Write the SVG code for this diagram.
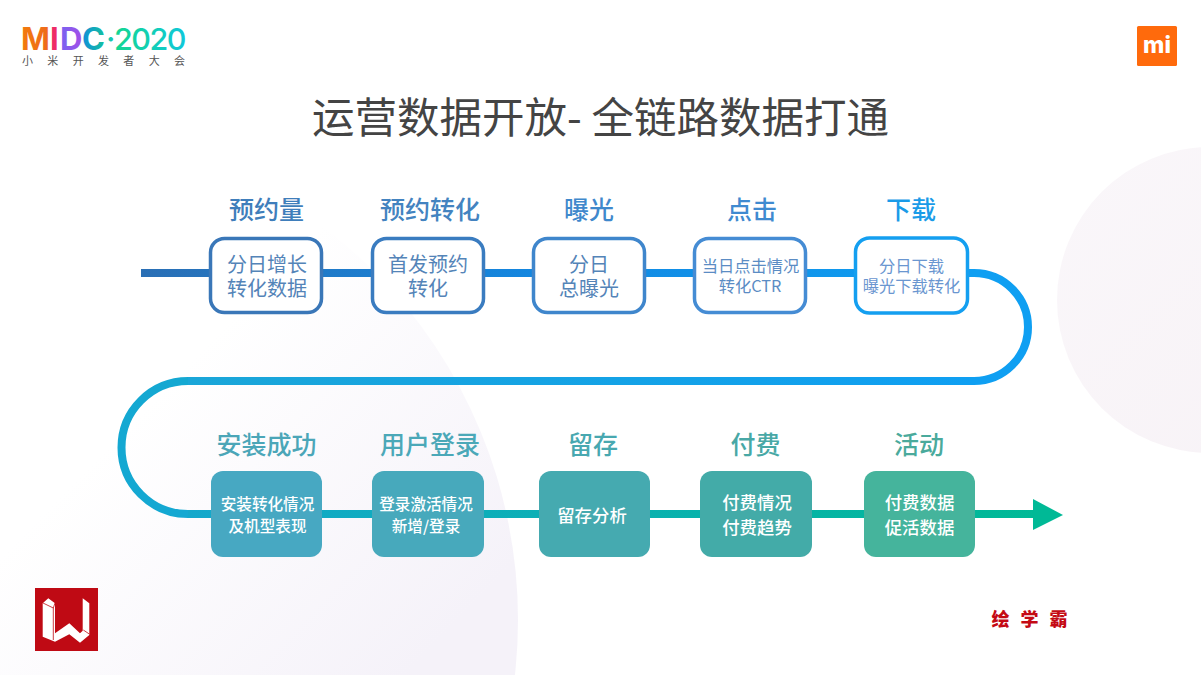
<svg xmlns="http://www.w3.org/2000/svg" width="1201" height="675" viewBox="0 0 1201 675">
<defs>
<linearGradient id="bg1" gradientUnits="userSpaceOnUse" x1="250" y1="300" x2="518" y2="560"><stop offset="0" stop-color="#ffffff"/><stop offset="1" stop-color="#f5f2f9"/></linearGradient>
<linearGradient id="bg2" x1="0" y1="0" x2="1" y2="1"><stop offset="0" stop-color="#faf7fa"/><stop offset="1" stop-color="#f7f2f6"/></linearGradient>
<linearGradient id="l1" gradientUnits="userSpaceOnUse" x1="141" y1="0" x2="968" y2="0"><stop offset="0" stop-color="#2a6fb5"/><stop offset="0.5" stop-color="#1288e2"/><stop offset="1" stop-color="#0f9ff2"/></linearGradient>
<linearGradient id="l3" gradientUnits="userSpaceOnUse" x1="188" y1="0" x2="974" y2="0"><stop offset="0" stop-color="#1aa6d8"/><stop offset="1" stop-color="#0f9ff2"/></linearGradient>
<linearGradient id="l4" gradientUnits="userSpaceOnUse" x1="188" y1="0" x2="1035" y2="0"><stop offset="0" stop-color="#14a8cc"/><stop offset="1" stop-color="#00b996"/></linearGradient>
<linearGradient id="g0" gradientUnits="userSpaceOnUse" x1="22" y1="0" x2="50" y2="0"><stop offset="0" stop-color="#f27a0c"/><stop offset="1" stop-color="#ee6a1e"/></linearGradient>
<linearGradient id="g2" gradientUnits="userSpaceOnUse" x1="62" y1="0" x2="80" y2="0"><stop offset="0" stop-color="#7a62f0"/><stop offset="1" stop-color="#a050e8"/></linearGradient>
<linearGradient id="g3" gradientUnits="userSpaceOnUse" x1="83" y1="0" x2="104" y2="0"><stop offset="0" stop-color="#1090d8"/><stop offset="1" stop-color="#14bfa0"/></linearGradient>
<linearGradient id="g4" gradientUnits="userSpaceOnUse" x1="114" y1="0" x2="184" y2="0"><stop offset="0" stop-color="#14d690"/><stop offset="1" stop-color="#10c8d8"/></linearGradient>
</defs>
<style>
text{font-family:"Noto Sans CJK SC","Noto Sans",sans-serif;text-anchor:middle}
.head{font-size:25px;font-weight:500}
.body{font-size:20px}
.small{font-size:16.300px}
.inner{font-size:15.600px;font-weight:500;fill:#fff}
.inner2{font-size:17.400px;font-weight:500;fill:#fff}
.box{fill:#fff;stroke-width:3.500}
.line{fill:none;stroke-width:8}
</style>
<rect width="1201" height="675" fill="#ffffff"/>
<g id="background">
<circle cx="24" cy="620" r="494" fill="url(#bg1)"/>
<circle cx="1210" cy="300" r="153" fill="url(#bg2)"/>
</g>
<g id="logo-midc">
<text y="50" style="font-family:Inter,sans-serif;text-anchor:start;font-size:31px;font-weight:700"><tspan x="21" fill="url(#g0)">M</tspan><tspan x="50" fill="#ee2c66">I</tspan><tspan x="60" fill="url(#g2)">D</tspan><tspan x="82" fill="url(#g3)">C</tspan><tspan x="106" font-weight="500" fill="#14c8b0">·</tspan><tspan x="114" font-size="30.500" font-weight="500" letter-spacing="-1.500" fill="url(#g4)">2020</tspan></text>
<text x="22" y="65" style="text-anchor:start;font-size:11px" fill="#555" textLength="163">小米开发者大会</text>
</g>
<g id="logo-mi">
<rect x="1137" y="26" width="40" height="40" rx="1.500" fill="#ff6a0c"/>
<text x="1157" y="53" style="font-family:Inter,sans-serif;font-size:23px;font-weight:800" fill="#fff">mi</text>
</g>
<text id="title" x="600.500" y="133" font-size="42.500" fill="#444444">运营数据开放- 全链路数据打通</text>
<g id="connectors">
<path class="line" stroke="url(#l1)" d="M141,273H968"/>
<path class="line" stroke="#0f9ff2" d="M968,273H974A54,54 0 0 1 974,381"/>
<path class="line" stroke="url(#l3)" d="M974,381H188"/>
<path class="line" stroke="#14a8d2" d="M188,381A66.500,66.500 0 0 0 188,514"/>
<path class="line" stroke="url(#l4)" d="M188,514H1035"/>
<polygon points="1033,499 1063,515 1033,530" fill="#00b996"/>
</g>
<g id="n1"><text class="head" x="266.500" y="219" fill="#3f7ebb">预约量</text><rect class="box" x="210.500" y="238.500" width="111" height="74" rx="14" stroke="#3a77b8"/><text class="body" fill="#5484b8"><tspan x="267" y="272">分日增长</tspan><tspan x="267" y="296">转化数据</tspan></text></g>
<g id="n2"><text class="head" x="430" y="219" fill="#4383c0">预约转化</text><rect class="box" x="372.500" y="238.500" width="111" height="74" rx="14" stroke="#3a7cc0"/><text class="body" fill="#5484b8"><tspan x="428" y="272">首发预约</tspan><tspan x="428" y="296">转化</tspan></text></g>
<g id="n3"><text class="head" x="589" y="219" fill="#3f88cc">曝光</text><rect class="box" x="533.500" y="238.500" width="111" height="74" rx="14" stroke="#3f86cc"/><text class="body" fill="#5484b8"><tspan x="589" y="272">分日</tspan><tspan x="589" y="296">总曝光</tspan></text></g>
<g id="n4"><text class="head" x="752" y="219" fill="#3f8ad0">点击</text><rect class="box" x="694.500" y="238.500" width="111" height="74" rx="14" stroke="#458cd4"/><text class="small" fill="#5b8cc4"><tspan x="750.500" y="272">当日点击情况</tspan><tspan x="750" y="292">转化CTR</tspan></text></g>
<g id="n5"><text class="head" x="911" y="219" fill="#1a9be8">下载</text><rect class="box" x="855.500" y="238" width="112" height="75" rx="14" stroke="#149ff0"/><text class="small" fill="#6a96d0"><tspan x="911.500" y="272">分日下载</tspan><tspan x="911.500" y="292">曝光下载转化</tspan></text></g>
<g id="n6"><text class="head" x="266.500" y="454" fill="#4ba6b8">安装成功</text><rect x="211" y="471" width="111" height="86" rx="12" fill="#47a8c2"/><text class="inner"><tspan x="267.500" y="510">安装转化情况</tspan><tspan x="267.500" y="532">及机型表现</tspan></text></g>
<g id="n7"><text class="head" x="430" y="454" fill="#4ba8b8">用户登录</text><rect x="372" y="471" width="112" height="86" rx="12" fill="#47a9bc"/><text class="inner"><tspan x="426" y="510">登录激活情况</tspan><tspan x="426" y="532">新增/登录</tspan></text></g>
<g id="n8"><text class="head" x="593" y="454" fill="#48a8b0">留存</text><rect x="539" y="471" width="111" height="86" rx="12" fill="#45aab0"/><text class="inner2" x="592" y="522">留存分析</text></g>
<g id="n9"><text class="head" x="755.500" y="454" fill="#48a8a6">付费</text><rect x="700" y="471" width="112" height="86" rx="12" fill="#43aba8"/><text class="inner2"><tspan x="757" y="509">付费情况</tspan><tspan x="757" y="534">付费趋势</tspan></text></g>
<g id="n10"><text class="head" x="919" y="454" fill="#4aaa9c">活动</text><rect x="864" y="471" width="111" height="86" rx="12" fill="#45b49c"/><text class="inner2"><tspan x="919.500" y="509">付费数据</tspan><tspan x="919.500" y="534">促活数据</tspan></text></g>
<g id="logo-w">
<rect x="35" y="588" width="63" height="63" fill="#bf0a14"/>
<polygon fill="#fff" points="42.700,603.300 48.300,598.300 55,603.300 55,633.300 69.300,623.300 80,633.300 82.700,630.700 82.700,598.300 89.300,603.300 89.300,635 80,642.700 69.300,634.300 55,641.700 42.700,636.700"/>
<path fill="none" stroke="#bf0a14" stroke-width="0.800" d="M53.300,608V640M43,603L53.300,608L55,603M83.300,630L89.300,634"/>
</g>
<text id="brand" x="1035" y="626" font-size="18" font-weight="900" fill="#c40a14" style="letter-spacing:11px">绘学霸</text>
</svg>
